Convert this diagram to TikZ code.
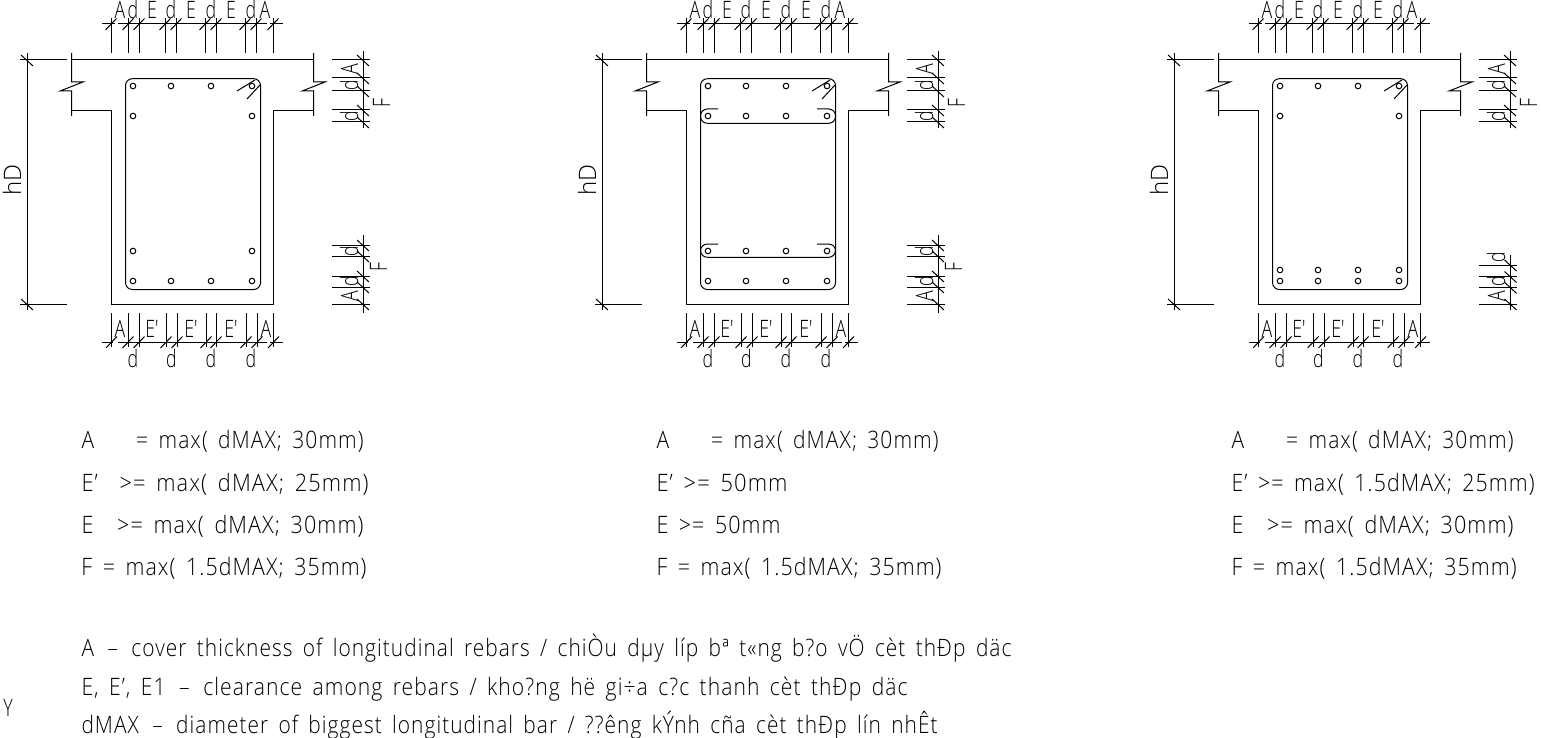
\documentclass[tikz,border=0pt]{standalone}
\usepackage{fontspec}
\usepackage{graphicx}
\setmainfont{Open Sans}[UprightFont=* Light,LetterSpace=5,WordSpace=1.6]
\newfontfamily\labfont{Open Sans}[UprightFont=* Light]
\newlength{\pxu}\setlength{\pxu}{0.5pt}
% one line of text, fitted to its width in the drawing
\newcommand{\txtline}[4]{\node[txt] at (#1,#2) {\resizebox{#3\pxu}{\height}{#4}};}
\newcommand{\nar}[1]{\scalebox{.74}[1]{#1}}
\newcommand{\tkf}[2]{\draw (#1-5.5,#2+6) -- (#1+5.5,#2-5.5);}
\newcommand{\tkb}[2]{\draw (#1-6,#2-5) -- (#1+6,#2+6);}
\tikzset{
  txt/.style={anchor=base west,inner sep=0pt,font=\fontsize{12}{14}\selectfont},
  lbl/.style={anchor=base,inner sep=0pt,font=\labfont\fontsize{12}{14}\selectfont},
  rlbl/.style={anchor=base,inner sep=0pt,rotate=90,font=\labfont\fontsize{12}{14}\selectfont},
  cad/.style={line width=0.5pt,black},
  round bar/.style={rounded corners=3.4pt}
}
% common frame of a section: beam outline and dimension chains
\newcommand{\beamframe}{%
  \draw (71.5,60) -- (313.5,60);
  \draw (71.5,53) -- (71.5,82) -- (83,82) -- (60,91) -- (71.5,91) -- (71.5,116);
  \draw (71.5,111) -- (111.5,111) -- (111.5,304) -- (273.5,304) -- (273.5,111) -- (313.5,111);
  \draw (313.5,53) -- (313.5,82) -- (325,82) -- (302,91) -- (313.5,91) -- (313.5,116);
  % height
  \draw (27,53) -- (27,310);
  \draw (20,60) -- (67,60);
  \draw (20,304) -- (67,304);
  \tkb{27}{60}\tkb{27}{304}
  \node[rlbl] at (21,180) {hD};
  % top chain
  \draw (102,24) -- (115,24);
  \draw (118,24) -- (267,24);
  \draw (270,24) -- (283,24);
  \foreach \x in {111,128,139,165,176,205,216,245,256,273}{
    \draw (\x,18) -- (\x,53);
    \tkf{\x}{24}
  }
  \foreach \x/\t in {120/A,133/d,152/E,171/d,191/E,211/d,231/E,251/d,265/A}{
    \node[lbl] at (\x,19) {\nar{\t}};
  }
  % bottom chain
  \draw (102,342) -- (113,342);
  \draw (118,342) -- (267,342);
  \draw (270,342) -- (283,342);
  \foreach \x in {111.5,128,139,166,177,206,216,246,257,273.5}{
    \draw (\x,313) -- (\x,347);
    \tkf{\x}{342}
  }
  \foreach \x/\t in {120/A,152/E',191/E',231/E',266/A}{
    \node[lbl] at (\x,337) {\nar{\t}};
  }
  \foreach \x in {133,171.5,211,251}{
    \node[lbl] at (\x,367) {\nar{d}};
  }
  % right chain, upper part
  \draw (363,51) -- (363,128);
  \foreach \y in {60,78,91,110,122}{
    \draw (332,\y) -- (370,\y);
    \tkb{363}{\y}
  }
  \node[rlbl] at (358,69) {\nar{A}};
  \node[rlbl] at (358,85) {\nar{d}};
  \node[rlbl] at (358,116) {\nar{d}};
  \node[rlbl] at (390,103) {\nar{F}};
}
\newcommand{\lowerchainF}{%
  \draw (363,235) -- (363,313);
  \foreach \y in {245,256,276,287,304}{
    \draw (332,\y) -- (370,\y);
    \tkb{363}{\y}
  }
  \node[rlbl] at (358,251) {\nar{d}};
  \node[rlbl] at (358,281) {\nar{d}};
  \node[rlbl] at (358,296) {\nar{A}};
  \node[rlbl] at (387,267) {\nar{F}};
}
\newcommand{\bars}[2]{\foreach \x in {#1}{\foreach \y in {#2}{\draw (\x,\y) circle (2.8);}}}
\newcommand{\stirrup}{%
  \draw[round bar] (125.5,78.7) rectangle (260.5,289.5);
  \draw (237,91) -- (255,80);
  \draw (247,99) -- (260,85);
}
\begin{document}
\begin{tikzpicture}[x=0.5pt,y=-0.5pt,cad]
\useasboundingbox (0,0) rectangle (1541,738);
% section 1
\begin{scope}
  \beamframe \lowerchainF \stirrup
  \bars{133,171,211,252}{86,281}
  \bars{133,252}{116,251}
\end{scope}
% section 2
\begin{scope}[shift={(575,0)}]
  \beamframe \lowerchainF \stirrup
  \bars{133,171,211,252}{86,116,251,281}
  \draw[round bar] (143,109) -- (125.5,109) -- (125.5,123.3) -- (260.5,123.3) -- (260.5,109) -- (242,109);
  \draw[round bar] (143,244) -- (125.5,244) -- (125.5,257.3) -- (260.5,257.3) -- (260.5,244) -- (242,244);
\end{scope}
% section 3
\begin{scope}[shift={(1147,0)}]
  \beamframe \stirrup
  \bars{133,171,211,252}{86,270,281}
  \bars{133,252}{116}
  \draw (363.5,255) -- (363.5,310);
  \foreach \y in {265,276.5,287.3,304}{
    \draw (332,\y) -- (370,\y);
    \tkb{363.5}{\y}
  }
  \node[rlbl] at (358,257) {\nar{d}};
  \node[rlbl] at (358,281) {\nar{d}};
  \node[rlbl] at (358,296) {\nar{A}};
\end{scope}
% formulas
\txtline{81}{448}{282}{A\hspace{2em}= max( dMAX; 30mm)}
\txtline{81}{491}{287}{E'\hspace{1em}>= max( dMAX; 25mm)}
\txtline{81}{533}{282}{E\hspace{1.1em}>= max( dMAX; 30mm)}
\txtline{81}{575}{285}{F = max( 1.5dMAX; 35mm)}
\txtline{656}{448}{282}{A\hspace{2em}= max( dMAX; 30mm)}
\txtline{656}{491}{131}{E' >= 50mm}
\txtline{656}{533}{124}{E >= 50mm}
\txtline{656}{575}{285}{F = max( 1.5dMAX; 35mm)}
\txtline{1231}{448}{282}{A\hspace{2em}= max( dMAX; 30mm)}
\txtline{1231}{491}{303}{E' >= max( 1.5dMAX; 25mm)}
\txtline{1231}{533}{282}{E\hspace{1.1em}>= max( dMAX; 30mm)}
\txtline{1231}{575}{285}{F = max( 1.5dMAX; 35mm)}
% notes
\txtline{81}{656}{930}{A\hspace{.15em} -- \hspace{.15em}cover thickness of longitudinal rebars / chiÒu dµy líp bª t«ng b?o vÖ cèt thÐp däc}
\txtline{81}{695}{826}{E, E', E1\hspace{.15em} -- \hspace{.15em}clearance among rebars / kho?ng hë gi÷a c?c thanh cèt thÐp däc}
\txtline{81}{733}{856}{dMAX\hspace{.15em} -- \hspace{.15em}diameter of biggest longitudinal bar / ??êng kÝnh cña cèt thÐp lín nhÊt}
\node[lbl] at (8,716) {\nar{Y}};
\end{tikzpicture}
\end{document}
